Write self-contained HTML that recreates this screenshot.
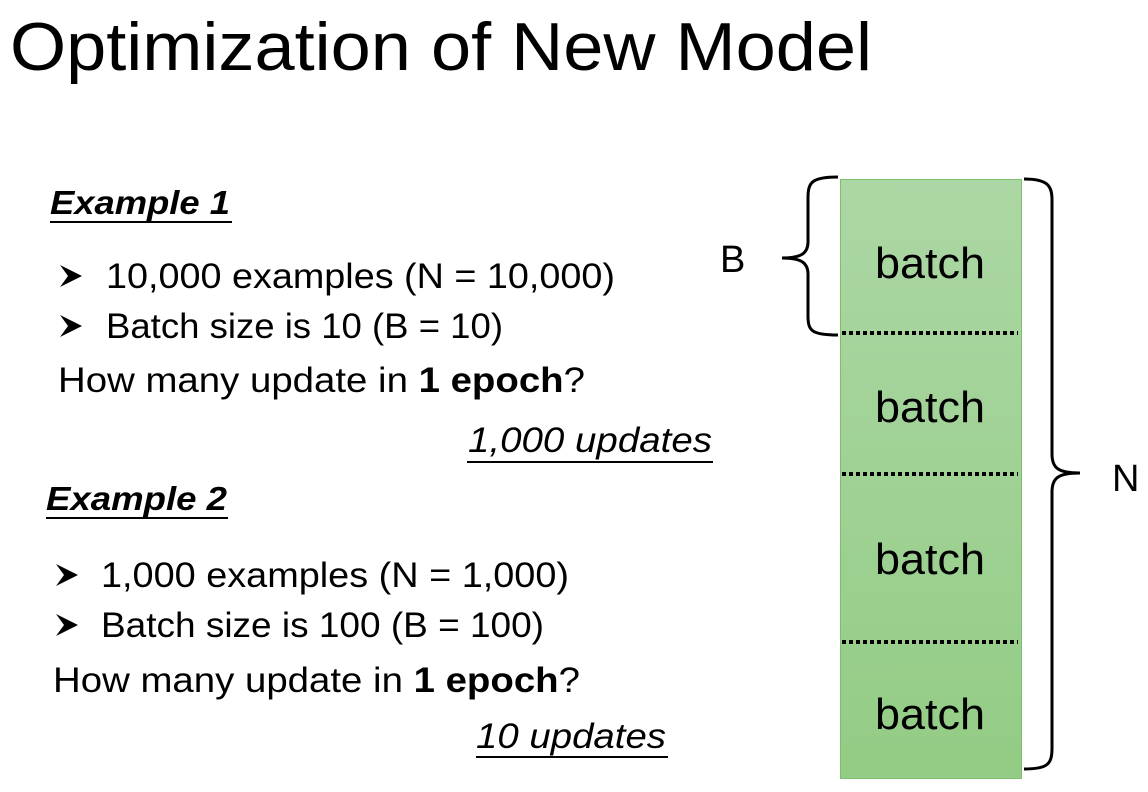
<!DOCTYPE html>
<html><head><meta charset="utf-8"><style>
html,body{margin:0;padding:0;background:#fff;}
svg{display:block;}
text{font-family:"Liberation Sans",sans-serif;fill:#000;}
</style></head><body>
<svg width="1148" height="792" viewBox="0 0 1148 792" xmlns="http://www.w3.org/2000/svg">
<defs>
<linearGradient id="g" x1="0" y1="0" x2="0" y2="1">
<stop offset="0" stop-color="#acd7a4"/><stop offset="1" stop-color="#93cc85"/>
</linearGradient>
<path id="ar" d="M0 0 L22 11 L0 22 L8 11 Z M0 0 L22 11 L10 10 Z"/>
</defs>
<text x="10" y="70" font-size="68" textLength="862" lengthAdjust="spacingAndGlyphs">Optimization of New Model</text>

<text x="50" y="214" font-size="33" font-weight="bold" font-style="italic" textLength="180" lengthAdjust="spacingAndGlyphs">Example 1</text>
<rect x="50" y="221" width="182" height="2"/>
<use href="#ar" x="60" y="265"/>
<text x="106" y="288" font-size="35" textLength="509" lengthAdjust="spacingAndGlyphs">10,000 examples (N = 10,000)</text>
<use href="#ar" x="60" y="315"/>
<text x="106" y="338" font-size="35" textLength="397" lengthAdjust="spacingAndGlyphs">Batch size is 10 (B = 10)</text>
<text x="58" y="392" font-size="35" textLength="527" lengthAdjust="spacingAndGlyphs">How many update in <tspan font-weight="bold">1 epoch</tspan>?</text>
<text x="468" y="452" font-size="35" font-style="italic" textLength="244" lengthAdjust="spacingAndGlyphs">1,000 updates</text>
<rect x="467" y="461" width="246" height="2"/>

<text x="46" y="510" font-size="33" font-weight="bold" font-style="italic" textLength="181" lengthAdjust="spacingAndGlyphs">Example 2</text>
<rect x="46" y="517" width="182" height="2"/>
<use href="#ar" x="56" y="564"/>
<text x="101" y="587" font-size="35" textLength="468" lengthAdjust="spacingAndGlyphs">1,000 examples (N = 1,000)</text>
<use href="#ar" x="56" y="614"/>
<text x="101" y="637" font-size="35" textLength="443" lengthAdjust="spacingAndGlyphs">Batch size is 100 (B = 100)</text>
<text x="53" y="692" font-size="35" textLength="527" lengthAdjust="spacingAndGlyphs">How many update in <tspan font-weight="bold">1 epoch</tspan>?</text>
<text x="476" y="748" font-size="35" font-style="italic" textLength="190" lengthAdjust="spacingAndGlyphs">10 updates</text>
<rect x="476" y="756" width="192" height="2"/>

<rect x="840.5" y="179.5" width="181" height="599" fill="url(#g)" stroke="#7cc06c" stroke-width="1"/>
<g stroke="#000" stroke-width="4" stroke-dasharray="4 3">
<line x1="842" y1="333" x2="1018" y2="333"/>
<line x1="842" y1="474" x2="1018" y2="474"/>
<line x1="842" y1="642" x2="1018" y2="642"/>
</g>
<g font-size="44" text-anchor="middle">
<text x="930" y="278" textLength="110" lengthAdjust="spacingAndGlyphs">batch</text>
<text x="930" y="422" textLength="110" lengthAdjust="spacingAndGlyphs">batch</text>
<text x="930" y="574" textLength="110" lengthAdjust="spacingAndGlyphs">batch</text>
<text x="930" y="729" textLength="110" lengthAdjust="spacingAndGlyphs">batch</text>
</g>
<path d="M838 177 C812 177 808 182 808 198 L808 242 C808 254 800 258 782 258 C800 258 808 262 808 274 L808 316 C808 331 812 335 838 335" fill="none" stroke="#000" stroke-width="3"/>
<path d="M1024 179 C1048 179 1052 186 1052 200 L1052 454 C1052 468 1058 473 1080 473 C1058 473 1052 478 1052 492 L1052 748 C1052 764 1048 769 1024 769" fill="none" stroke="#000" stroke-width="3"/>
<text x="720" y="272" font-size="38">B</text>
<text x="1112" y="491" font-size="38">N</text>
</svg>
</body></html>
